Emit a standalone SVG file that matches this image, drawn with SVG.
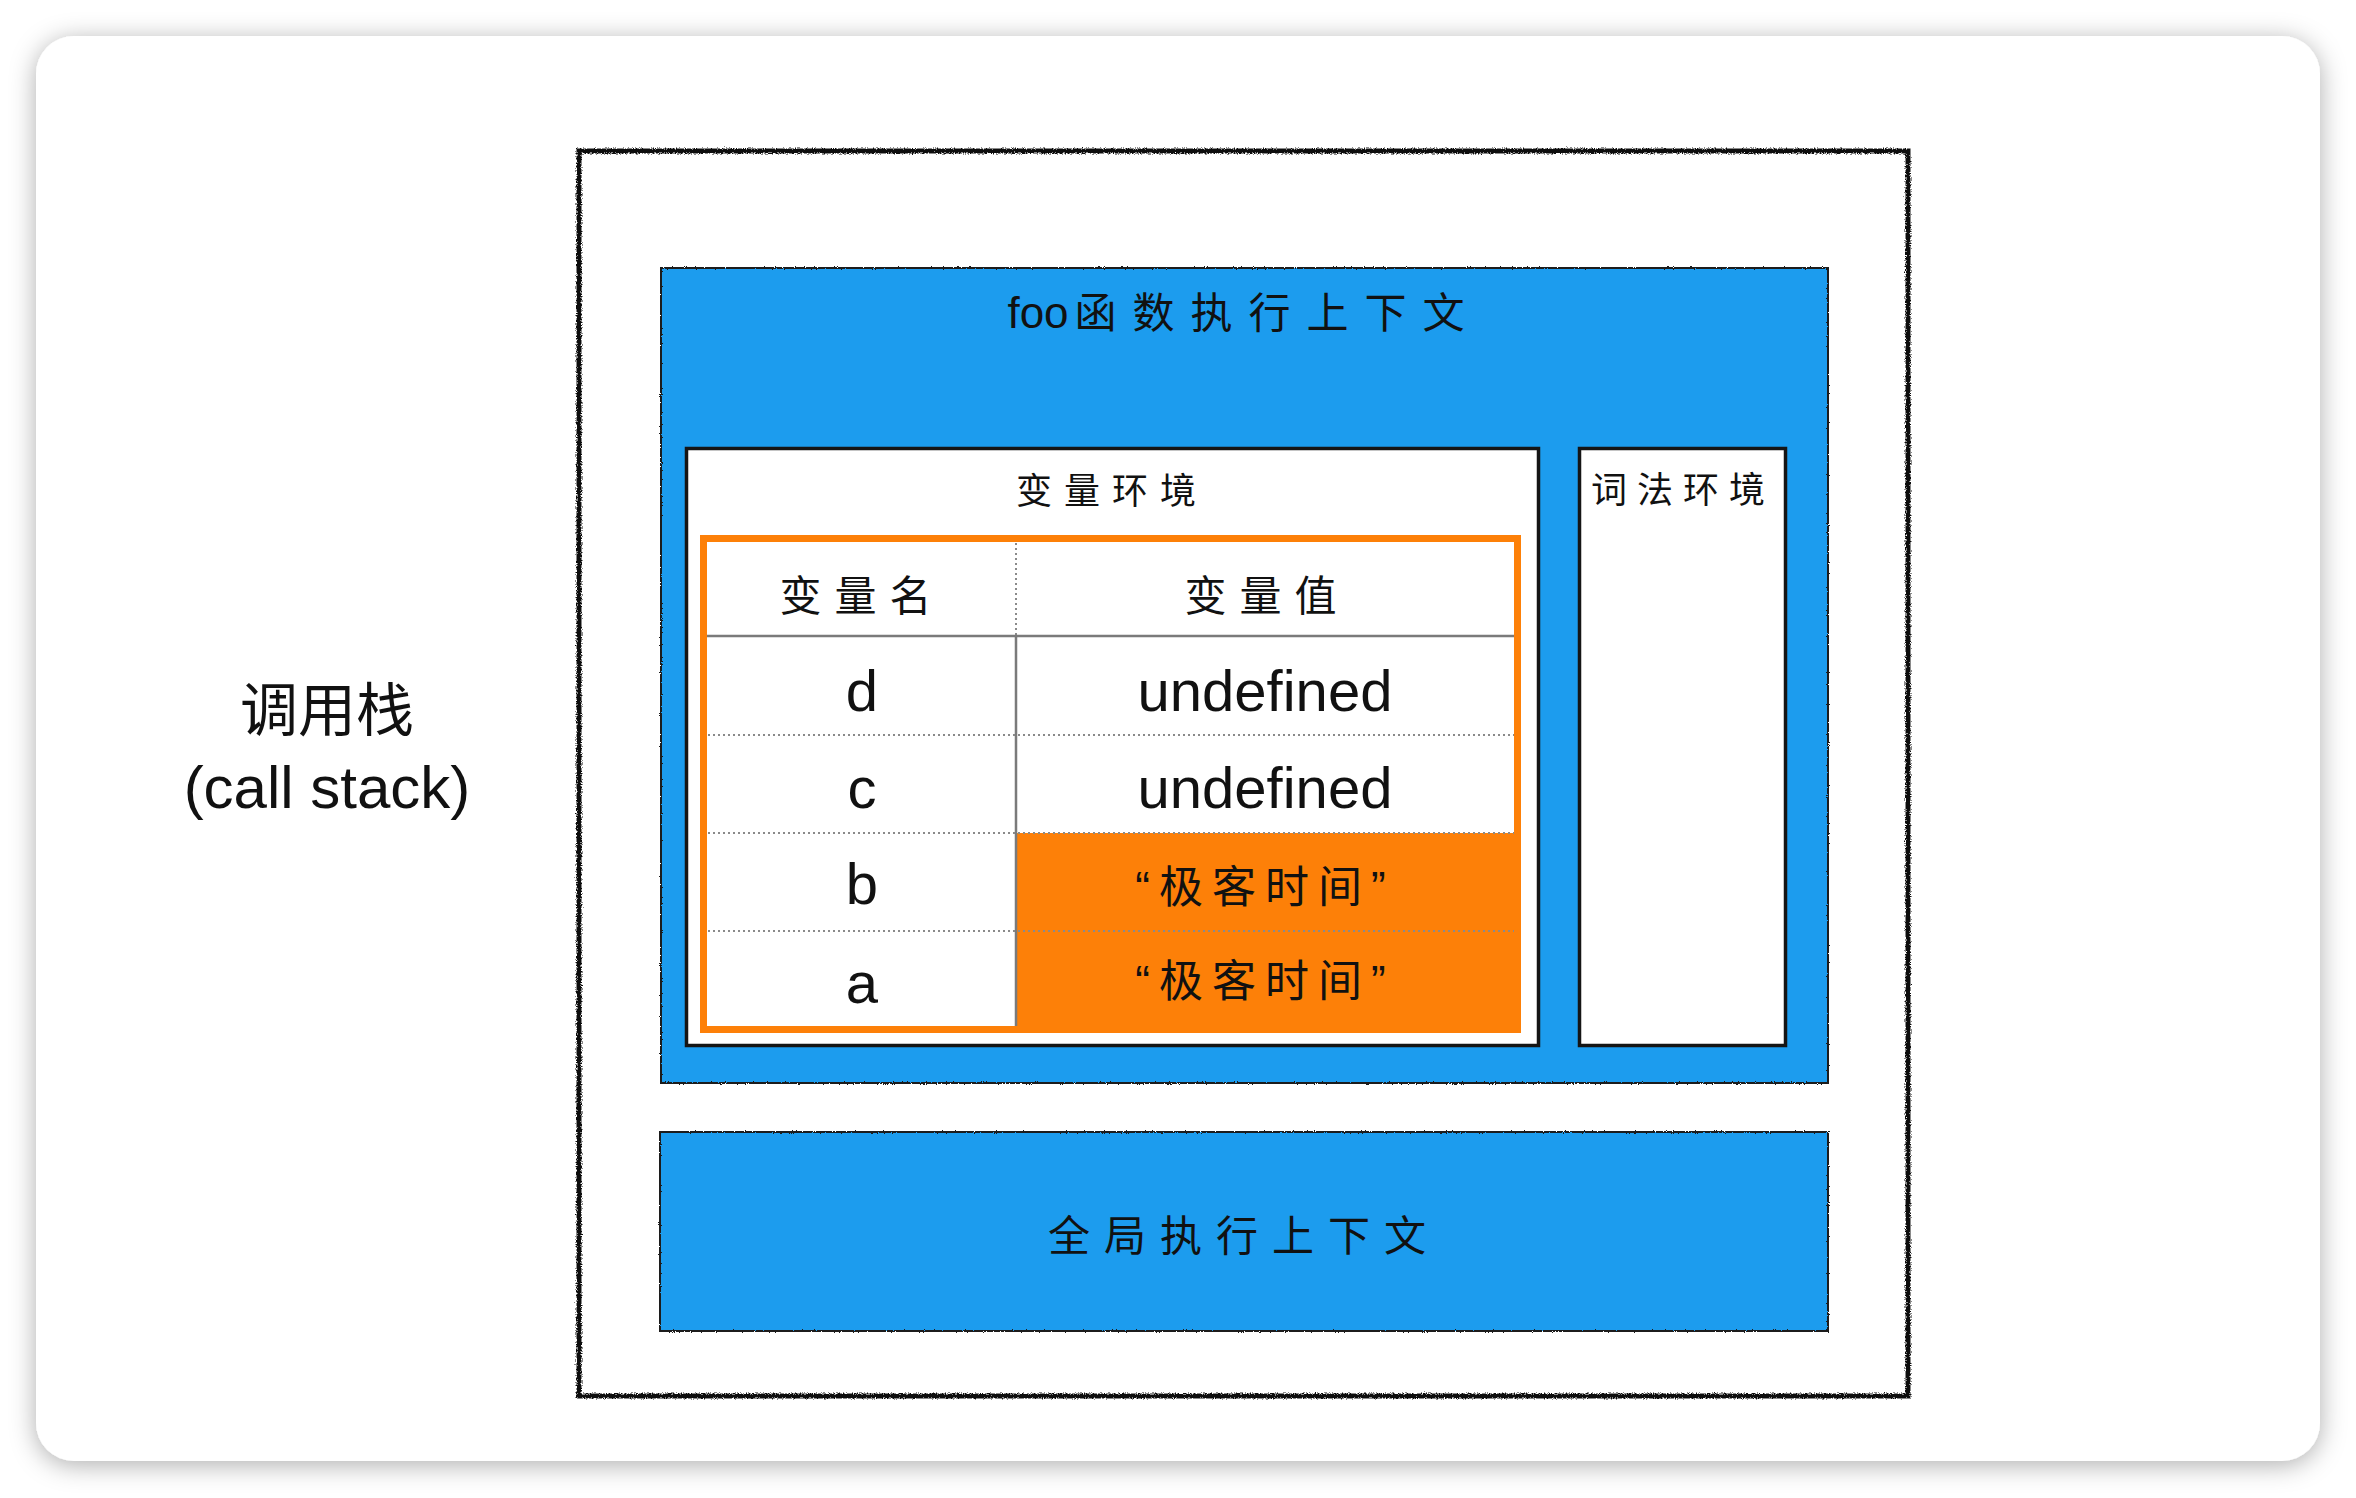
<svg xmlns="http://www.w3.org/2000/svg" width="2356" height="1498" viewBox="0 0 2356 1498">
  <defs>
    <filter id="shadow" x="-5%" y="-5%" width="110%" height="110%">
      <feDropShadow dx="0" dy="4" stdDeviation="13" flood-color="#000" flood-opacity="0.32"/>
    </filter>
    <filter id="rough" x="-2%" y="-2%" width="104%" height="104%">
      <feTurbulence type="fractalNoise" baseFrequency="0.9" numOctaves="2" seed="3" result="n"/>
      <feDisplacementMap in="SourceGraphic" in2="n" scale="4.5" xChannelSelector="R" yChannelSelector="G"/>
    </filter>
    <filter id="rough2" x="-2%" y="-2%" width="104%" height="104%">
      <feTurbulence type="fractalNoise" baseFrequency="0.9" numOctaves="2" seed="7" result="n"/>
      <feDisplacementMap in="SourceGraphic" in2="n" scale="2.5" xChannelSelector="R" yChannelSelector="G"/>
    </filter>
  </defs>
  <style>
    .cjk { font-family: "Liberation Sans", "Noto Sans CJK SC", sans-serif; fill: #111; text-anchor: middle; }
    .lat { font-family: "Liberation Sans", "Noto Sans CJK SC", sans-serif; fill: #111; text-anchor: middle; }
    .blue { fill: #1c9cee; }
    .bluebd { fill: none; stroke: #1a1a1a; stroke-width: 2; }
    .envbox { fill: #ffffff; stroke: #151515; stroke-width: 3.5; }
    .dot { stroke: #8a8a8a; stroke-width: 2; stroke-dasharray: 2 3; fill: none; }
    .solid { stroke: #7a7a7a; stroke-width: 2.5; fill: none; }
    .orange { fill: #fd8008; }
  </style>

  <rect width="2356" height="1498" fill="#ffffff"/>
  <g id="card">
    <rect x="36" y="36" width="2284" height="1425" rx="38" ry="38" fill="#ffffff" filter="url(#shadow)"/>
  </g>

  <g id="call-stack-label">
    <text class="cjk" x="327" y="731" font-size="58">调用栈</text>
    <text class="lat" x="327" y="808" font-size="60">(call stack)</text>
  </g>

  <g id="call-stack">
    <rect x="579" y="151" width="1329" height="1245" fill="#ffffff"/>
    <rect x="579" y="151" width="1329" height="1245" fill="none" stroke="#111" stroke-width="5" filter="url(#rough)"/>
  </g>

  <g id="foo-context">
    <rect class="blue" x="661" y="268" width="1167" height="815"/>
    <rect class="bluebd" x="661" y="268" width="1167" height="815" filter="url(#rough2)"/>
    <text class="cjk" x="1244" y="328" font-size="42"><tspan font-size="44">foo</tspan><tspan dx="6" letter-spacing="16">函数执行上下文</tspan></text>
  </g>

  <g id="variable-environment">
    <rect class="envbox" x="686.5" y="448.5" width="852" height="597"/>
    <text class="cjk" x="1112" y="504" font-size="36" letter-spacing="12">变量环境</text>
  </g>

  <g id="variable-table">
    <rect class="orange" x="1016" y="833" width="505" height="200"/>
    <line class="dot" x1="1016" y1="543" x2="1016" y2="636"/>
    <line class="solid" x1="703" y1="636" x2="1518" y2="636"/>
    <line class="solid" x1="1016" y1="636" x2="1016" y2="1030"/>
    <line class="dot" x1="703" y1="735" x2="1518" y2="735"/>
    <line class="dot" x1="703" y1="833" x2="1518" y2="833"/>
    <line class="dot" x1="703" y1="931" x2="1518" y2="931"/>
    <rect x="703.5" y="538.5" width="814" height="491" fill="none" stroke="#fd8008" stroke-width="7"/>
    <text class="cjk" x="862" y="611" font-size="42" letter-spacing="13">变量名</text>
    <text class="cjk" x="1267" y="611" font-size="42" letter-spacing="13">变量值</text>
    <text class="lat" x="862" y="711" font-size="58">d</text>
    <text class="lat" x="1265" y="711" font-size="58">undefined</text>
    <text class="lat" x="862" y="808" font-size="58">c</text>
    <text class="lat" x="1265" y="808" font-size="58">undefined</text>
    <text class="lat" x="862" y="904" font-size="58">b</text>
    <text class="cjk" x="1265" y="903" font-size="44" letter-spacing="9">“极客时间”</text>
    <text class="lat" x="862" y="1003" font-size="58">a</text>
    <text class="cjk" x="1265" y="997" font-size="44" letter-spacing="9">“极客时间”</text>
  </g>

  <g id="lexical-environment">
    <rect class="envbox" x="1579.5" y="448.5" width="206" height="597"/>
    <text class="cjk" x="1683" y="503" font-size="36" letter-spacing="10">词法环境</text>
  </g>

  <g id="global-context">
    <rect class="blue" x="660" y="1132" width="1168" height="199"/>
    <rect class="bluebd" x="660" y="1132" width="1168" height="199" filter="url(#rough2)"/>
    <text class="cjk" x="1244" y="1251" font-size="42" letter-spacing="14">全局执行上下文</text>
  </g>

  <g id="connectors"/>
</svg>
